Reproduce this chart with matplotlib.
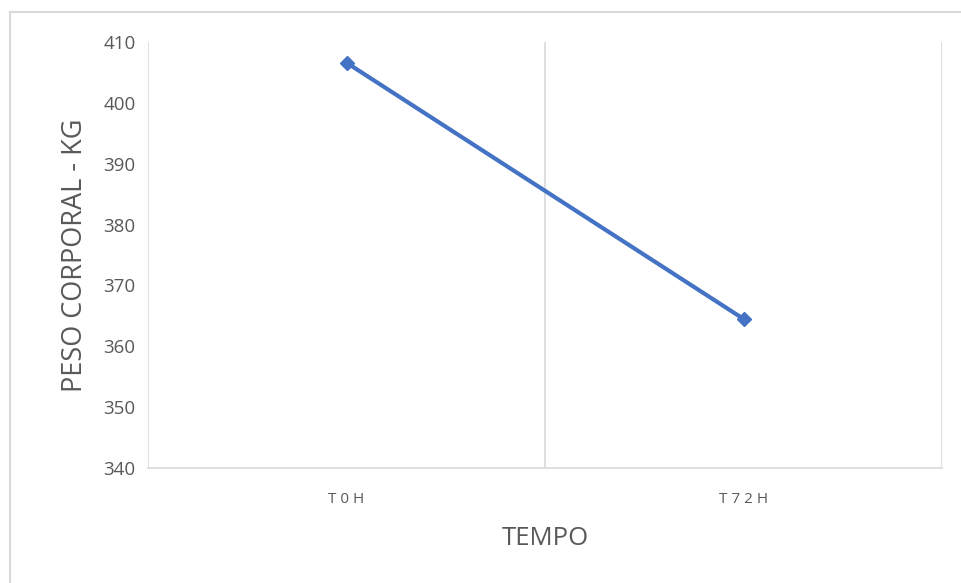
import matplotlib
matplotlib.use("Agg")
import matplotlib.pyplot as plt
from matplotlib.lines import Line2D

categories = ["T0H", "T72H"]
weights = [406.6, 364.5]
y_ticks = [340, 350, 360, 370, 380, 390, 400, 410]

W, H = 961, 583
fig = plt.figure(figsize=(W / 100, H / 100), dpi=100)
fig.patch.set_facecolor("white")

# outer chart border (left & top visible)
fig.add_artist(Line2D([10 / W, 10 / W], [0, 1 - 12 / H], color="#d9d9d9", lw=1.5))
fig.add_artist(Line2D([10 / W, 1], [1 - 12 / H, 1 - 12 / H], color="#d9d9d9", lw=1.5))

left, right, top, bottom = 148, 942, 42, 468
ax = fig.add_axes([left / W, 1 - bottom / H, (right - left) / W, (bottom - top) / H])

x = list(range(len(categories)))
ax.plot(x, weights, color="#4472C4", lw=3, marker="D", markersize=7,
        markerfacecolor="#4472C4", markeredgecolor="#4472C4", solid_capstyle="round")

ax.set_xlim(-0.5, len(categories) - 0.5)
ax.set_ylim(y_ticks[0], y_ticks[-1])
ax.set_yticks(y_ticks)
ax.set_xticks(x)
ax.set_xticklabels([" ".join(c) for c in categories])

# vertical gridlines at category boundaries
for b in [-0.5 + i for i in range(len(categories) + 1)]:
    ax.axvline(b, color="#d9d9d9", lw=1.2, zorder=0)

for s in ["top", "right", "left"]:
    ax.spines[s].set_visible(False)
ax.spines["bottom"].set_color("#d9d9d9")
ax.spines["bottom"].set_linewidth(1.2)

ax.tick_params(axis="both", length=0, colors="#595959")
ax.tick_params(axis="y", labelsize=13.5, pad=9)
ax.tick_params(axis="x", labelsize=11, pad=17)
for lab in ax.get_yticklabels() + ax.get_xticklabels():
    lab.set_fontfamily("Open Sans")

ax.set_ylabel("PESO CORPORAL - KG", fontsize=19.5, color="#595959",
              fontfamily="Open Sans", labelpad=10)
ax.set_xlabel("TEMPO", fontsize=18.5, color="#595959",
              fontfamily="Open Sans", labelpad=14)

fig.savefig("out.png", dpi=100)
